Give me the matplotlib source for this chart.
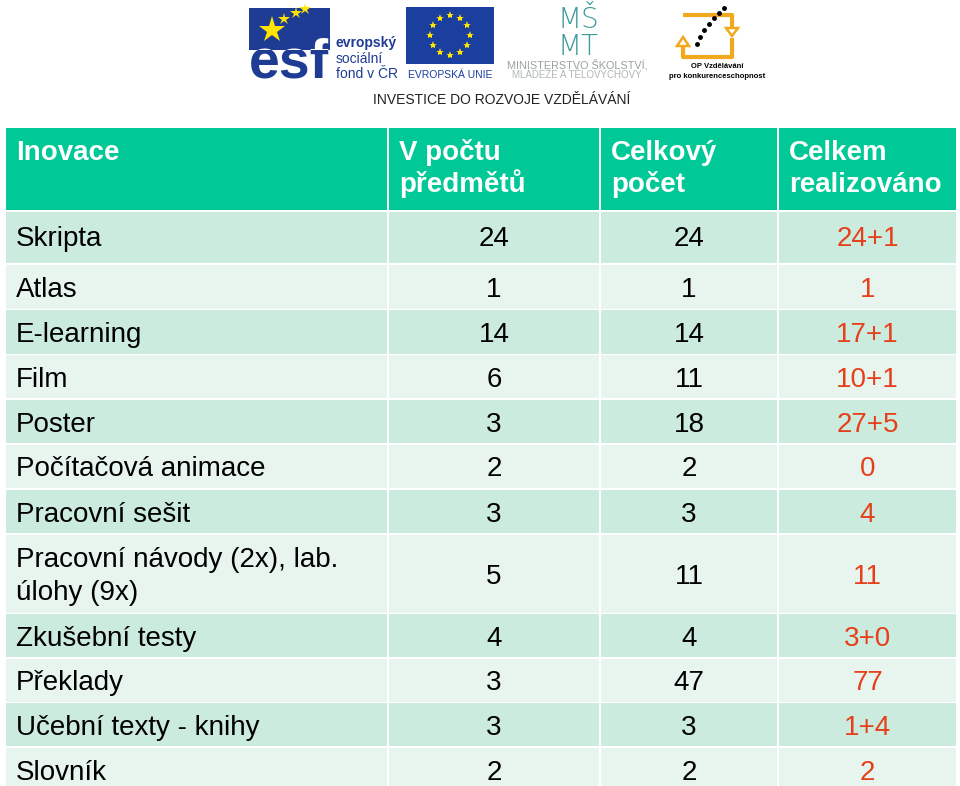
import matplotlib
matplotlib.use("Agg")
import matplotlib.pyplot as plt
from matplotlib.patches import Rectangle, Polygon
import numpy as np

plt.rcParams['font.family'] = ['Liberation Sans', 'DejaVu Sans']

# ---- data ----
headers = ["Inovace", "V počtu\npředmětů", "Celkový\npočet", "Celkem\nrealizováno"]
categories = ["Skripta", "Atlas", "E-learning", "Film", "Poster", "Počítačová animace",
              "Pracovní sešit", "Pracovní návody (2x), lab.\núlohy (9x)", "Zkušební testy",
              "Překlady", "Učební texty - knihy", "Slovník"]
v_poctu_predmetu = ["24", "1", "14", "6", "3", "2", "3", "5", "4", "3", "3", "2"]
celkovy_pocet = ["24", "1", "14", "11", "18", "2", "3", "11", "4", "47", "3", "2"]
celkem_realizovano = ["24+1", "1", "17+1", "10+1", "27+5", "0", "4", "11", "3+0", "77", "1+4", "2"]

# ---- layout (pixels) ----
W, H = 960, 786
col_edges = [5, 388, 600, 778, 957]
row_edges = [127, 211, 264, 309.5, 354.5, 399, 444, 489, 534, 613.5, 658, 702.5, 747, 792]
LINE = 33  # px between text lines

HEADER = "#00C896"
DARK = "#CCEBDF"
LIGHT = "#E8F5EF"
RED = "#E5401A"
GAP = 1.5

fig = plt.figure(figsize=(W / 100, H / 100), dpi=100)
ax = fig.add_axes([0, 0, 1, 1])
ax.set_xlim(0, W)
ax.set_ylim(H, 0)
ax.axis("off")

def cell(x0, x1, y0, y1, color):
    ax.add_patch(Rectangle((x0 + GAP / 2, y0 + GAP / 2), x1 - x0 - GAP, y1 - y0 - GAP,
                           facecolor=color, edgecolor="none", zorder=1))

def lines_text(x, yc, s, ha, **kw):
    parts = s.split("\n")
    n = len(parts)
    for i, p in enumerate(parts):
        base = yc + 10 + (i - (n - 1) / 2) * LINE
        ax.text(x, base, p, ha=ha, va="baseline", fontsize=20, zorder=3, **kw)

# header
for c in range(4):
    x0, x1 = col_edges[c], col_edges[c + 1]
    y0, y1 = row_edges[0], row_edges[1]
    cell(x0, x1, y0, y1, HEADER)
    for i, p in enumerate(headers[c].split("\n")):
        ax.text(x0 + 11, 160 + i * 32.5, p, color="white", fontsize=20, fontweight="bold",
                ha="left", va="baseline", zorder=3)

# body
cols = [categories, v_poctu_predmetu, celkovy_pocet, celkem_realizovano]
for r in range(len(categories)):
    y0, y1 = row_edges[r + 1], row_edges[r + 2]
    color = DARK if r % 2 == 0 else LIGHT
    yc = (y0 + y1) / 2
    if r == 0:
        yc -= 2
    for c in range(4):
        x0, x1 = col_edges[c], col_edges[c + 1]
        cell(x0, x1, y0, y1, color)
        txt = cols[c][r]
        if c == 0:
            lines_text(x0 + 11, yc, txt, "left", color="black")
        else:
            lines_text((x0 + x1) / 2, yc, txt, "center", color=RED if c == 3 else "black")

# ---- logo strip ----
ESF_BLUE = "#1F3C95"
EU_BLUE = "#1B3F9E"
YEL = "#FFE500"

# ESF logo
esf_box = Rectangle((249, 8), 81, 42, facecolor=ESF_BLUE, edgecolor="none", zorder=2)
ax.add_patch(esf_box)
ax.text(289, 78, "esf", color=ESF_BLUE, fontsize=40, fontweight="bold", ha="center",
        va="baseline", zorder=3)
t = ax.text(289, 78, "esf", color="white", fontsize=40, fontweight="bold", ha="center",
            va="baseline", zorder=4, clip_on=True)
t.set_clip_path(esf_box)
ax.plot([272], [30], marker="*", color=YEL, markersize=20, zorder=5, markeredgewidth=0)
ax.plot([284, 296, 305], [19, 13, 9], ls="none", marker="*", color=YEL, markersize=9,
        zorder=5, markeredgewidth=0)
ax.text(336, 47, "evropský", color=ESF_BLUE, fontsize=10, fontweight="bold", ha="left", va="baseline")
ax.text(336, 63, "sociální", color=ESF_BLUE, fontsize=10, ha="left", va="baseline")
ax.text(336, 78, "fond v ČR", color=ESF_BLUE, fontsize=10, ha="left", va="baseline")

# EU flag
ax.add_patch(Rectangle((406, 7), 88, 57, facecolor=EU_BLUE, edgecolor="none", zorder=2))
ang = np.linspace(0, 2 * np.pi, 13)[:-1]
ax.plot(450 + 20 * np.cos(ang), 35 + 20 * np.sin(ang), ls="none", marker="*", color=YEL,
        markersize=6, markeredgewidth=0, zorder=3)
ax.text(450, 78, "EVROPSKÁ UNIE", color=EU_BLUE, fontsize=7.5, ha="center", va="baseline")

# MSMT
TEAL = "#3F9A9A"
ax.text(578, 55, "MŠ\nMT", color=TEAL, fontsize=20, ha="center", va="baseline",
        family="DejaVu Sans", fontweight="light", linespacing=0.95)
ax.text(577, 68, "MINISTERSTVO ŠKOLSTVÍ,", color="#9AA0A0", fontsize=7.8, ha="center", va="baseline")
ax.text(577, 78, "MLÁDEŽE A TĚLOVÝCHOVY", color="#B0B6B6", fontsize=7, ha="center", va="baseline")

# OP logo
ORANGE = "#F2A81D"
ax.plot([683, 683, 732, 732], [46, 57, 57, 38], color=ORANGE, lw=3, solid_capstyle="butt")
ax.add_patch(Polygon([[677, 46], [689, 46], [683, 37]], closed=True, facecolor="white",
                     edgecolor=ORANGE, lw=1.8, zorder=3))
ax.plot([683, 732, 732], [15, 15, 28], color=ORANGE, lw=3, solid_capstyle="butt")
ax.add_patch(Polygon([[726, 28], [738, 28], [732, 36]], closed=True, facecolor="white",
                     edgecolor=ORANGE, lw=1.8, zorder=3))
ax.plot([697, 700, 704, 709, 714, 719, 724], [44, 37, 30, 24, 18, 13, 8], ls="none",
        marker="o", color="black", markersize=2.5, zorder=4)
ax.text(717, 68, "OP Vzdělávání", color="black", fontsize=5.5, fontweight="bold",
        ha="center", va="baseline")
ax.text(717, 78, "pro konkurenceschopnost", color="black", fontsize=5.5, fontweight="bold",
        ha="center", va="baseline")

ax.text(502, 104, "INVESTICE DO ROZVOJE VZDĚLÁVÁNÍ", color="#222222", fontsize=10,
        ha="center", va="baseline")

fig.savefig("out.png", dpi=100, facecolor="white")
